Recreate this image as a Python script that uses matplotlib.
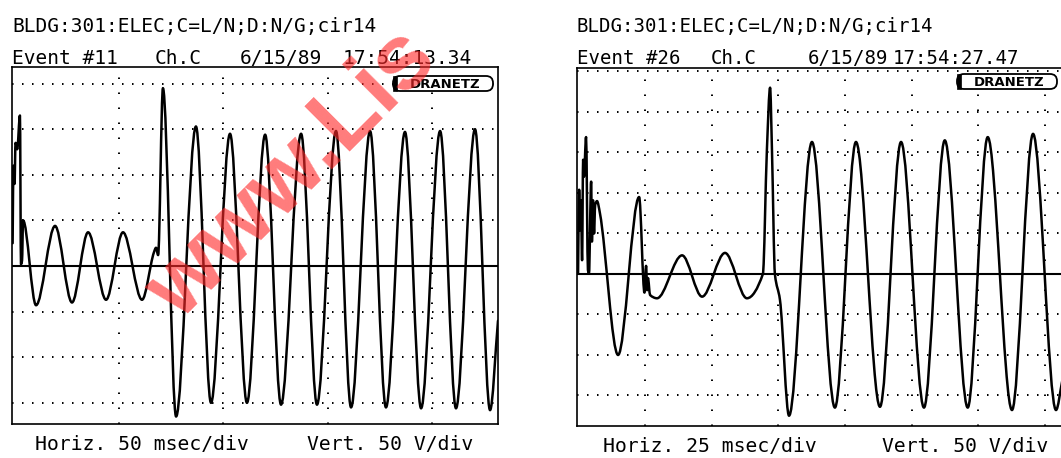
import matplotlib
matplotlib.use("Agg")
import matplotlib.pyplot as plt
import numpy as np
from matplotlib.path import Path
from matplotlib.patches import PathPatch, FancyBboxPatch, Rectangle
from matplotlib.transforms import IdentityTransform

plt.rcParams['lines.scale_dashes'] = False

W, H, DPI = 1061, 458, 100

# ---------------- data ----------------
# Event #11 (50 ms/div, 50 V/div): time in ms, voltage in V at the trace's turning points
ev11_t = [-0.7, -0.3, 0.2, 0.7, 1.5, 2.8, 3.3, 3.8, 4.3,
          10.5, 19.6, 27.7, 35.4, 44.0, 52.1, 61.2,
          66.9, 67.9, 68.9, 71.2,
          77.5, 87.0, 94.2, 103.3, 111.4, 120.1, 127.7, 137.3, 144.9, 154.0,
          161.2, 170.3, 177.9, 187.0, 194.7, 203.8, 211.4, 220.5, 227.7, 231.5]
ev11_v = [25, 110, 90, 135, 128, 165, 2, 6, 50,
          -43, 44, -40, 37, -37, 37, -37,
          15, 20, 12, 195,
          -165, 153, -150, 145, -150, 144, -152, 145, -152, 148,
          -155, 148, -155, 147, -156, 148, -156, 150, -158, -60]

# Event #26 (25 ms/div, 50 V/div)
ev26_t = [-0.1, 0.3, 0.6, 1.0, 1.4, 1.8, 2.1, 2.9, 3.6, 4.0, 4.8, 5.1, 5.5, 5.9, 6.3, 7.0, 8.1,
          14.9, 22.8, 24.8, 25.4, 25.8, 26.1, 26.9, 29.5,
          38.9, 46.4, 55.0, 63.2, 69.2, 70.7, 71.9, 72.6, 73.7, 75.6,
          79.0, 87.6, 96.2, 104.1, 113.1, 121.0, 129.6, 137.4, 146.0, 153.5,
          162.6, 170.5, 179.1, 181.5]
ev26_v = [1, 104, 54, 91, 17, 141, 120, 169, 5, 1, 114, 40, 91, 50, 85, 90, 75,
          -100, 95, -23, 10, -20, -5, -26, -30,
          23, -28, 26, -30, 0, 153, 230, 153, 0, -32,
          -175, 163, -165, 163, -164, 163, -165, 165, -165, 169,
          -168, 173, -168, -131]

header = "BLDG:301:ELEC;C=L/N;D:N/G;cir14"
ev11_fields = ["Event #11", "Ch.C", "6/15/89", "17:54:13.34"]
ev26_fields = ["Event #26", "Ch.C", "6/15/89", "17:54:27.47"]
ev11_scale = ["Horiz. 50 msec/div", "Vert. 50 V/div"]
ev26_scale = ["Horiz. 25 msec/div", "Vert. 50 V/div"]
watermark = "www.Lis"

ev11_tgrid = [50, 100, 150, 200]
ev26_tgrid = [25, 50, 75, 100, 125, 150, 175]
ev11_vgrid = [-150, -100, -50, 50, 100, 150, 200]
ev26_vgrid = [-150, -100, -50, 50, 100, 150, 200, 250]

# ---------------- drawing ----------------
fig = plt.figure(figsize=(W / DPI, H / DPI), dpi=DPI)
fig.patch.set_facecolor("white")
MONO = "DejaVu Sans Mono"


def trace_path(t, v):
    """Monotone cubic curve through the turning points."""
    t = np.asarray(t, float)
    v = np.asarray(v, float)
    d = np.diff(v) / np.diff(t)
    m = np.zeros_like(v)
    m[0], m[-1] = d[0], d[-1]
    for i in range(1, len(v) - 1):
        if d[i - 1] * d[i] > 0:
            m[i] = 2.0 / (1.0 / d[i - 1] + 1.0 / d[i])
    verts = [(t[0], v[0])]
    codes = [Path.MOVETO]
    for i in range(len(t) - 1):
        h = t[i + 1] - t[i]
        verts += [(t[i] + h / 3, v[i] + m[i] * h / 3),
                  (t[i + 1] - h / 3, v[i + 1] - m[i + 1] * h / 3),
                  (t[i + 1], v[i + 1])]
        codes += [Path.CURVE4] * 3
    return Path(verts, codes)


def scope(box, xlim, ylim, tgrid, vgrid, t, v):
    l, top, r, b = box
    ax = fig.add_axes([l / W, 1 - b / H, (r - l) / W, (b - top) / H])
    ax.set_xlim(*xlim)
    ax.set_ylim(*ylim)
    ax.set_xticks([])
    ax.set_yticks([])
    ax.set_facecolor("white")
    for s in ax.spines.values():
        s.set_linewidth(1.2)
        s.set_color("black")
    for x in tgrid:
        ax.axvline(x, color="black", lw=1.4, ls=(0, (1.1, 9.7)), zorder=1)
    for y in vgrid:
        ax.axhline(y, color="black", lw=1.4, ls=(0, (1.1, 6.1)), zorder=1)
    ax.axhline(0, color="black", lw=1.5, zorder=2)
    ax.add_patch(PathPatch(trace_path(t, v), facecolor="none", edgecolor="black",
                           lw=1.8, joinstyle="round", capstyle="round", zorder=3))
    return ax


def ftext(x, y, s, **kw):
    fig.text(x / W, 1 - y / H, s, **kw)


def logo(x0, y0, x1, y1):
    tr = IdentityTransform()
    fig.add_artist(FancyBboxPatch((x0, H - y1), x1 - x0, y1 - y0,
                                  boxstyle="round,pad=0,rounding_size=7",
                                  facecolor="white", edgecolor="black", lw=1.3,
                                  transform=tr, zorder=5))
    fig.add_artist(Rectangle((x0, H - y1), 4, y1 - y0, facecolor="black",
                             edgecolor="black", lw=0.5, transform=tr, zorder=6))
    fig.text((x0 + x1) / 2 / W + 0.002, 1 - (y0 + y1) / 2 / H, "DRANETZ",
             ha="center", va="center_baseline", fontsize=9.5, fontweight="bold",
             family="DejaVu Sans", zorder=7)


# Event #11
scope((12, 67, 498, 424), (-1.0, 231.5), (-173.2, 218.2),
      ev11_tgrid, ev11_vgrid, ev11_t, ev11_v)
ftext(12, 32, header, family=MONO, fontsize=14.0, va="baseline")
for s, x in zip(ev11_fields, [12, 155, 240, 343]):
    ftext(x, 64, s, family=MONO, fontsize=14.0, va="baseline")
for s, x in zip(ev11_scale, [35, 307]):
    ftext(x, 450, s, family=MONO, fontsize=14.2, va="baseline")
logo(393, 76, 493, 91)

# Event #26
scope((577, 68, 1074.4, 426), (-0.5, 186.0), (-187.7, 254.3),
      ev26_tgrid, ev26_vgrid, ev26_t, ev26_v)
ftext(577, 32, header, family=MONO, fontsize=13.7, va="baseline")
for s, x in zip(ev26_fields, [577, 711, 808, 893]):
    ftext(x, 64, s, family=MONO, fontsize=13.7, va="baseline")
for s, x in zip(ev26_scale, [603, 882]):
    ftext(x, 452, s, family=MONO, fontsize=14.2, va="baseline")
logo(957, 74, 1057, 89)

# red watermark across the first screen
fig.text(180 / W, 1 - 322 / H, watermark, rotation=45,
         rotation_mode="anchor", ha="left", va="baseline", fontsize=66,
         fontweight="bold", family="Liberation Sans", color="#ff2a2a",
         alpha=0.62, zorder=20)

fig.savefig("out.png", dpi=DPI, facecolor="white")
